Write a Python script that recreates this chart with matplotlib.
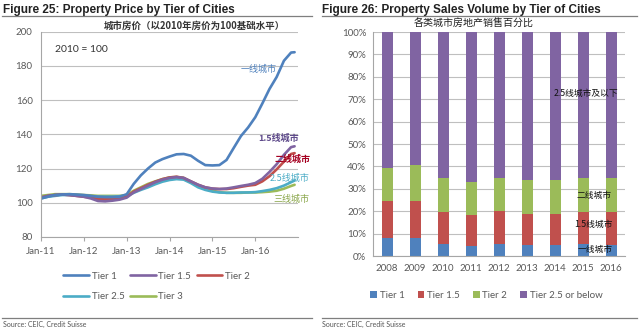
import numpy as np
import pandas as pd
import matplotlib
matplotlib.use('Agg')
import matplotlib.pyplot as plt
import matplotlib.dates as mdates
from matplotlib.lines import Line2D
from matplotlib.ticker import FuncFormatter

plt.rcParams['font.family'] = ['Lato', 'Noto Sans CJK SC', 'DejaVu Sans']
CJK = ['Noto Sans CJK SC', 'DejaVu Sans']
TITLE = ['Liberation Sans Narrow', 'Liberation Sans', 'DejaVu Sans']

# ---- Figure 25: price index, 2010 = 100 (bi-monthly readings) ----
dates = pd.date_range('2011-01-01', '2016-11-01', freq='2MS').append(pd.DatetimeIndex(['2016-12-01']))

tier1 = [102.5, 103.5, 104.5, 104.8, 105, 104.8, 104.5, 104, 103.5, 103.3, 103.3, 103.5,
         105, 111, 116, 120, 123.5, 125.5, 127, 128.3, 128.5, 127.5, 124.5, 122,
         121.8, 122, 125, 132, 139, 144, 150, 158, 166.5, 173.5, 183, 187.8, 188]
tier15 = [103, 104, 104.5, 104.8, 104.5, 104, 103.5, 102.5, 101, 100.8, 101.2, 101.8,
          103, 106, 108, 110, 112, 113.5, 114.5, 115, 114.5, 112.5, 110.5, 109,
          108.3, 108, 108.3, 109, 109.8, 110.5, 111.5, 114, 118, 122.5, 128, 132.5, 133]
tier2 = [103, 104, 104.5, 104.8, 104.5, 104, 103.5, 103, 102.2, 102, 102.2, 102.5,
         103.5, 106.5, 108.5, 110.5, 112.3, 113.8, 114.8, 115.2, 114.5, 112.5, 110.5, 109,
         108.2, 108, 108, 108.5, 109.3, 110, 110.5, 112.5, 115.5, 119.5, 124, 128.5, 129]
tier25 = [102.5, 103.5, 104, 104.5, 104.5, 104.2, 104, 103.8, 103.5, 103.5, 103.5, 103.8,
          104, 105.8, 107.5, 109, 110.8, 112.3, 113.3, 113.8, 113.5, 111.5, 109, 107.5,
          106.5, 106, 105.8, 105.8, 106, 106, 106.2, 106.8, 107.5, 108.5, 110, 112, 113]
tier3 = [104, 104.5, 105, 105, 105, 104.8, 104.5, 104.3, 104, 104, 104, 104,
         104.5, 107, 109, 111, 112.5, 113.8, 114.8, 115, 114.5, 112, 110, 108,
         107, 106.2, 105.8, 105.8, 105.8, 106, 106, 106.2, 106.5, 107, 108.2, 109.8, 110.5]

# ---- Figure 26: share of sales by tier (%) ----
years = ['2008', '2009', '2010', '2011', '2012', '2013', '2014', '2015', '2016']
share_t1 = [8, 8, 5.5, 4.5, 5.5, 5, 5, 5.5, 5]
share_t15 = [16.5, 16.5, 14, 14, 14.5, 14, 14, 14, 14.5]
share_t2 = [15, 16, 15.5, 14.5, 15, 15, 15, 15.5, 15.5]
share_t25 = [60.5, 59.5, 65, 67, 65, 66, 66, 65, 65]

c_blue = '#4F81BD'
c_purple = '#8064A2'
c_red = '#C0504D'
c_cyan = '#4BACC6'
c_green = '#9BBB59'
txt = '#595959'
grid = '#BFBFBF'

fig = plt.figure(figsize=(6.4, 3.3), dpi=100)

# titles, rules and sources
fig.text(0.004, 0.962, 'Figure 25: Property Price by Tier of Cities', fontsize=8.5,
         fontweight='bold', family=TITLE, color='#222222', va='baseline')
fig.text(0.503, 0.962, 'Figure 26: Property Sales Volume by Tier of Cities', fontsize=8.5,
         fontweight='bold', family=TITLE, color='#222222', va='baseline')
for x0, x1 in [(0.003, 0.488), (0.503, 0.995)]:
    fig.add_artist(Line2D([x0, x1], [0.952, 0.952], color='#7F7F7F', lw=0.9))
    fig.add_artist(Line2D([x0, x1], [0.036, 0.036], color='#7F7F7F', lw=0.9))
fig.text(0.004, 0.016, 'Source: CEIC, Credit Suisse', fontsize=5, color='#555555', va='center')
fig.text(0.503, 0.016, 'Source: CEIC, Credit Suisse', fontsize=5, color='#555555', va='center')

# left chart
ax = fig.add_axes([0.064, 0.282, 0.402, 0.622])
series = [(tier1, 'Tier 1', c_blue), (tier15, 'Tier 1.5', c_purple), (tier2, 'Tier 2', c_red),
          (tier25, 'Tier 2.5', c_cyan), (tier3, 'Tier 3', c_green)]
lines = {}
for vals, name, col in series[::-1]:
    h, = ax.plot(dates, vals, color=col, lw=1.9, label=name, solid_capstyle='round')
    lines[name] = h
ax.set_ylim(80, 200)
ax.set_yticks(np.arange(80, 201, 20))
ax.set_xlim(pd.Timestamp('2011-01-01'), pd.Timestamp('2017-01-01'))
ax.set_xticks(pd.date_range('2011-01-01', '2016-01-01', freq='YS'))
ax.xaxis.set_major_formatter(mdates.DateFormatter('%b-%y'))
ax.grid(axis='y', color=grid, lw=0.8)
ax.set_axisbelow(True)
for s in ['top', 'right']:
    ax.spines[s].set_visible(False)
for s in ['left', 'bottom']:
    ax.spines[s].set_color('#A6A6A6')
ax.tick_params(axis='y', length=0, labelsize=7, colors=txt, pad=6)
ax.tick_params(axis='x', length=3, color='#A6A6A6', labelsize=7, colors=txt, pad=4)
ax.text(0.055, 0.9, '2010 = 100', transform=ax.transAxes, fontsize=7.5, color='#333333')
fig.text(0.303, 0.921, '城市房价（以2010年房价为100基础水平）', family=CJK, fontsize=6.8,
         fontweight='bold', color='#333333', ha='center', va='center')

ax.text(pd.Timestamp('2016-02-01'), 178, '一线城市', family=CJK, fontsize=6.5, color=c_blue,
        ha='center', va='center')
ax.text(pd.Timestamp('2016-07-15'), 137.5, '1.5线城市', family=CJK, fontsize=6.5,
        color='#5F4B8B', ha='center', va='center', fontweight='bold')
ax.text(pd.Timestamp('2016-11-15'), 125.5, '二线城市', family=CJK, fontsize=6.5,
        color='#A50021', ha='center', va='center', fontweight='bold')
ax.text(pd.Timestamp('2016-10-15'), 114.5, '2.5线城市', family=CJK, fontsize=6.5,
        color=c_cyan, ha='center', va='center')
ax.text(pd.Timestamp('2016-11-01'), 102, '三线城市', family=CJK, fontsize=6.5,
        color='#8AA64A', ha='center', va='center')

# legend filled row by row: Tier 1, 1.5, 2 / Tier 2.5, 3
order = ['Tier 1', 'Tier 2.5', 'Tier 1.5', 'Tier 3', 'Tier 2']
fig.legend(handles=[lines[n] for n in order], ncol=3, loc='center', bbox_to_anchor=(0.245, 0.132),
           frameon=False, fontsize=7, handlelength=2.6, handletextpad=0.3,
           columnspacing=0.6, labelspacing=1.15, labelcolor=txt)

# right chart
bx = fig.add_axes([0.583, 0.224, 0.394, 0.679])
xpos = np.arange(len(years))
bottom = np.zeros(len(years))
bar_handles = []
for vals, name, col in [(share_t1, 'Tier 1', c_blue), (share_t15, 'Tier 1.5', c_red),
                        (share_t2, 'Tier 2', c_green), (share_t25, 'Tier 2.5 or below', c_purple)]:
    b = bx.bar(xpos, vals, 0.4, bottom=bottom, color=col, label=name)
    bar_handles.append(b)
    bottom += np.array(vals)
bx.set_xlim(-0.5, 8.5)
bx.set_ylim(0, 100)
bx.set_yticks(np.arange(0, 101, 10))
bx.yaxis.set_major_formatter(FuncFormatter(lambda v, p: f'{v:.0f}%'))
bx.set_xticks(xpos)
bx.set_xticklabels(years)
bx.grid(axis='y', color=grid, lw=0.8)
bx.set_axisbelow(True)
for s in ['top', 'right']:
    bx.spines[s].set_visible(False)
for s in ['left', 'bottom']:
    bx.spines[s].set_color('#A6A6A6')
bx.tick_params(axis='y', length=0, labelsize=7, colors=txt, pad=5)
bx.tick_params(axis='x', length=0, labelsize=7, colors=txt, pad=6)
fig.text(0.74, 0.927, '各类城市房地产销售百分比', family=CJK, fontsize=7.2,
         color='#222222', ha='center', va='center')

bx.text(7.1, 72.8, '2.5线城市及以下', family=CJK, fontsize=6.3, color='#111111',
        ha='center', va='center')
bx.text(7.37, 27.2, '二线城市', family=CJK, fontsize=6.3, color='#111111', ha='center', va='center')
bx.text(7.37, 14.3, '1.5线城市', family=CJK, fontsize=6.3, color='#111111', ha='center', va='center')
bx.text(7.44, 3.1, '一线城市', family=CJK, fontsize=6.3, color='#111111', ha='center', va='center')

fig.legend(handles=bar_handles, ncol=4, loc='center', bbox_to_anchor=(0.76, 0.105),
           frameon=False, fontsize=7, handlelength=0.7, handleheight=0.7,
           handletextpad=0.3, columnspacing=1.3, labelcolor=txt)

fig.savefig('out.png', dpi=100)
